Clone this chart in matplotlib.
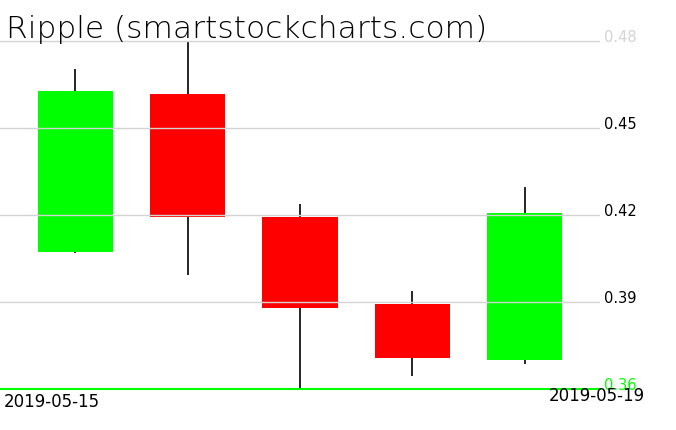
import matplotlib
matplotlib.use("Agg")
import matplotlib.pyplot as plt

dates = ["2019-05-15", "2019-05-16", "2019-05-17", "2019-05-18", "2019-05-19"]
opens = [0.4073, 0.4618, 0.4193, 0.3893, 0.3700]
highs = [0.4703, 0.4800, 0.4238, 0.3938, 0.4297]
lows = [0.4070, 0.3993, 0.3598, 0.3645, 0.3687]
closes = [0.4628, 0.4194, 0.3880, 0.3707, 0.4207]
yticks = [0.36, 0.39, 0.42, 0.45, 0.48]
ytick_labels = ["0.36", "0.39", "0.42", "0.45", "0.48"]
title = "Ripple (smartstockcharts.com)"

W, H = 676, 431
fig = plt.figure(figsize=(W / 100, H / 100), dpi=100)
ax = fig.add_axes([0, (H - 390) / H, 600 / W, 390 / H])
ax.set_xlim(-0.667, 4.667)
ax.set_ylim(0.36, 0.36 + 390 / 2900)
for s in ax.spines.values():
    s.set_visible(False)
ax.set_xticks([])
ax.set_yticks([])

bw = 0.667
for i in range(len(dates)):
    o, h, l, c = opens[i], highs[i], lows[i], closes[i]
    col = "#00ff00" if c >= o else "#ff0000"
    ax.plot([i, i], [l, h], color="black", lw=1.2, zorder=1, solid_capstyle="butt")
    ax.bar(i, abs(c - o), bottom=min(o, c), width=bw, color=col, edgecolor="none", zorder=2)

for v in yticks[1:]:
    ax.axhline(v, color="#d3d3d3", lw=1, zorder=3)
ax.axhline(yticks[0], color="#00ff00", lw=1.5, zorder=4, clip_on=False)

for v, lab in zip(yticks, ytick_labels):
    if v == 0.48:
        c = "#d3d3d3"
    elif v == 0.36:
        c = "#00ff00"
    else:
        c = "black"
    ax.text(604 / 600, v, lab, transform=ax.get_yaxis_transform(), ha="left", va="baseline",
            fontsize=10.5, color=c, clip_on=False)

fig.text(6 / W, 1 - 38 / H, title, ha="left", va="baseline", fontsize=22.5, fontweight="light",
         color="black")
fig.text(4 / W, 1 - 407 / H, dates[0], ha="left", va="baseline", fontsize=12, color="black")
fig.text(645 / W, 1 - 401 / H, dates[-1], ha="right", va="baseline", fontsize=12, color="black")

fig.savefig("out.png", dpi=100)
